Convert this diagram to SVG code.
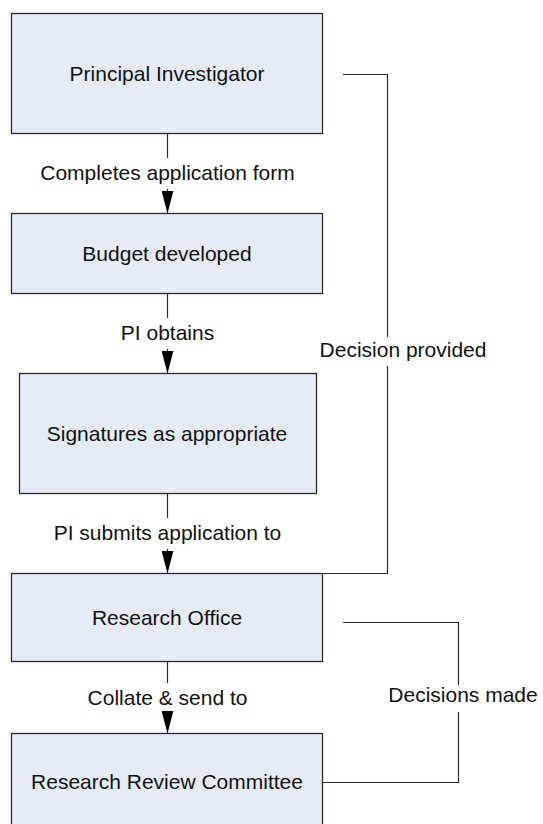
<svg xmlns="http://www.w3.org/2000/svg" width="543" height="824" viewBox="0 0 543 824">
<style>
.box{fill:#e5ebf7;stroke:#2b2b2b;stroke-width:1.3}
.t{font-family:"Liberation Sans",Arial,sans-serif;font-size:21px;fill:#111;text-anchor:middle}
.c{fill:none;stroke:#2b2b2b;stroke-width:1.2}
</style>
<defs>
<marker id="ah" viewBox="0 -6 23 12" refX="23" refY="0" markerWidth="23" markerHeight="12" markerUnits="userSpaceOnUse" orient="auto">
<path d="M0,-6 L23,0 L0,6 Z" fill="#000"/>
</marker>
</defs>
<rect width="543" height="824" fill="#fff"/>
<g id="n1"><rect class="box" x="11.5" y="13.5" width="311" height="120"/><text class="t" x="167" y="81">Principal Investigator</text></g>
<g id="n2"><rect class="box" x="11.5" y="213.5" width="311" height="80"/><text class="t" x="167" y="260.5">Budget developed</text></g>
<g id="n3"><rect class="box" x="19.5" y="373.5" width="297" height="120"/><text class="t" x="167" y="441">Signatures as appropriate</text></g>
<g id="n4"><rect class="box" x="11.5" y="573.5" width="311" height="88"/><text class="t" x="167" y="625">Research Office</text></g>
<g id="n5"><rect class="box" x="11.5" y="733.5" width="311" height="120"/><text class="t" x="167" y="789">Research Review Committee</text></g>
<g id="connectors">
<path class="c" d="M167.5,133.5 V158"/>
<path class="c" d="M167.5,189 V213.5" marker-end="url(#ah)"/>
<text class="t" x="167.5" y="180">Completes application form</text>
<path class="c" d="M167.5,293.5 V318"/>
<path class="c" d="M167.5,349 V373.5" marker-end="url(#ah)"/>
<text class="t" x="167.5" y="340">PI obtains</text>
<path class="c" d="M167.5,493.5 V518"/>
<path class="c" d="M167.5,549 V573.5" marker-end="url(#ah)"/>
<text class="t" x="167.5" y="540">PI submits application to</text>
<path class="c" d="M167.5,661.5 V683"/>
<path class="c" d="M167.5,712 V733.5" marker-end="url(#ah)"/>
<text class="t" x="167.5" y="705">Collate &amp; send to</text>
<path class="c" d="M343,74.5 H387.5 V337"/>
<path class="c" d="M387.5,366 V573.5 H322.5"/>
<text class="t" x="403" y="357">Decision provided</text>
<path class="c" d="M343,622.5 H458.5 V685"/>
<path class="c" d="M458.5,712 V782.5 H322.5"/>
<text class="t" x="463" y="702">Decisions made</text>
</g>
</svg>
